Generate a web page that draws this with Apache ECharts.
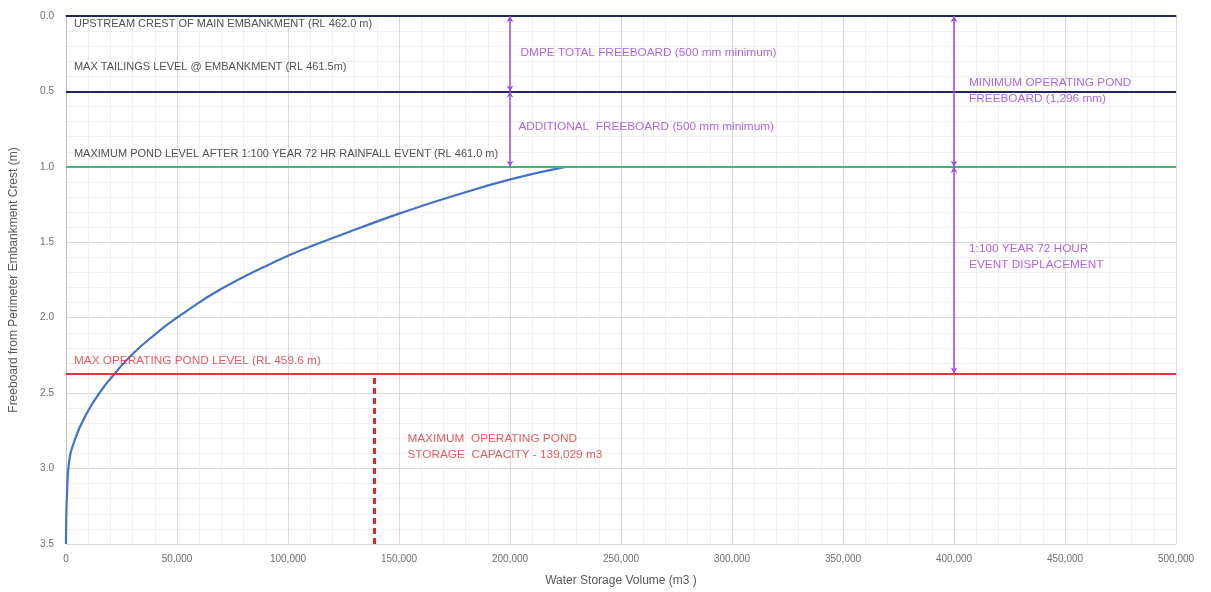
<!DOCTYPE html>
<html>
<head>
<meta charset="utf-8">
<script src="https://cdn.jsdelivr.net/npm/echarts@6/dist/echarts.min.js"></script>
<style>
  html, body { margin: 0; padding: 0; background: #fff; }
  #chart { width: 1211px; height: 592px; }
</style>
</head>
<body>
<div id="chart"></div>
<script>
// storage curve (volume m3 vs freeboard m)
const volumes    = [0, 150, 500, 1200, 4200, 9500, 15500, 22000, 30000, 41000, 50000, 71000, 100000, 116000, 131000, 151000, 174000, 201000, 225000];
const freeboards = [3.5, 3.3, 3.15, 2.98, 2.8, 2.63, 2.49, 2.37, 2.24, 2.1, 2.0, 1.8, 1.59, 1.495, 1.412, 1.305, 1.195, 1.08, 1.0];

// horizontal reference levels (freeboard m)
const levelValues = [0, 0.5, 1.0, 2.37];
const levelColors = ['#1f2660', '#1f2660', '#3dba7a', '#e2333f'];

// freeboard arrows: [volume, from, to]
const arrowSegments = [
  [200000, 0, 0.5],
  [200000, 0.5, 1.0],
  [400000, 0, 1.0],
  [400000, 1.0, 2.37]
];

// max operating storage marker
const maxStorage = 139029;
const maxStorageRange = [2.4, 3.5];

// text notes: [volume, freeboard, text, colour kind]
const notes = [
  [3800, 0.053, 'UPSTREAM CREST OF MAIN EMBANKMENT (RL 462.0 m)', 'black'],
  [3800, 0.344, 'MAX TAILINGS LEVEL @ EMBANKMENT (RL 461.5m)', 'black'],
  [3800, 0.92, 'MAXIMUM POND LEVEL AFTER 1:100 YEAR 72 HR RAINFALL EVENT (RL 461.0 m)', 'black'],
  [205000, 0.25, 'DMPE TOTAL FREEBOARD (500 mm minimum)', 'purple'],
  [204000, 0.74, 'ADDITIONAL  FREEBOARD (500 mm minimum)', 'purple'],
  [407000, 0.50, 'MINIMUM OPERATING POND\nFREEBOARD (1,296 mm)', 'purple'],
  [407000, 1.60, '1:100 YEAR 72 HOUR\nEVENT DISPLACEMENT', 'purple'],
  [3800, 2.29, 'MAX OPERATING POND LEVEL (RL 459.6 m)', 'red'],
  [154000, 2.86, 'MAXIMUM  OPERATING POND\nSTORAGE  CAPACITY - 139,029 m3', 'red']
];
const noteColors = { black: '#262626', purple: '#9b3fd8', red: '#e0323c' };
const noteSizes = { black: 11, purple: 11.8, red: 11.8 };

const chart = echarts.init(document.getElementById('chart'), null, { renderer: 'canvas' });

const font = 'Liberation Sans';

const opt = {
  backgroundColor: '#ffffff',
  animation: false,
  grid: { left: 63, right: 35, top: 16, bottom: 47 },
  xAxis: {
    type: 'value',
    min: 0,
    max: 500000,
    interval: 50000,
    name: 'Water Storage Volume (m3 )',
    nameLocation: 'middle',
    nameGap: 31,
    nameTextStyle: { color: '#595959', fontSize: 12, fontFamily: font },
    axisLine: { show: true, lineStyle: { color: '#6b6b6b', width: 1.5 } },
    axisTick: { show: false },
    axisLabel: {
      color: '#6f6f6f', fontSize: 10, fontFamily: font, margin: 10,
      formatter: (v) => v.toLocaleString('en-US')
    },
    splitLine: { show: true, lineStyle: { color: '#d9d9d9' } },
    minorTick: { show: false, splitNumber: 5 },
    minorSplitLine: { show: true, lineStyle: { color: '#f0f0f0' } }
  },
  yAxis: {
    type: 'value',
    inverse: true,
    min: 0,
    max: 3.5,
    interval: 0.5,
    name: 'Freeboard from Perimeter Embankment Crest (m)',
    nameLocation: 'middle',
    nameGap: 46,
    nameTextStyle: { color: '#595959', fontSize: 12, fontFamily: font },
    axisLine: { show: true, lineStyle: { color: '#bfbfbf' } },
    axisTick: { show: false },
    axisLabel: {
      color: '#6f6f6f', fontSize: 10, fontFamily: font, margin: 12,
      formatter: (v) => v.toFixed(1)
    },
    splitLine: { show: true, lineStyle: { color: '#d9d9d9' } },
    minorTick: { show: false, splitNumber: 5 },
    minorSplitLine: { show: true, lineStyle: { color: '#f0f0f0' } }
  },
  series: [
    {
      name: 'levels',
      type: 'line',
      data: [],
      markLine: {
        silent: true,
        symbol: 'none',
        label: { show: false },
        data: levelValues.map((v, i) => ({
          yAxis: v,
          lineStyle: { color: levelColors[i], width: 2, type: 'solid' }
        }))
      }
    },
    {
      name: 'storage',
      type: 'line',
      smooth: 0.5,
      showSymbol: false,
      lineStyle: { color: '#4472c4', width: 2.2 },
      data: volumes.map((v, i) => [v, freeboards[i]]),
      z: 3
    },
    {
      name: 'arrows',
      type: 'line',
      data: [],
      markLine: {
        silent: true,
        symbol: ['arrow', 'arrow'],
        symbolSize: [5, 6],
        label: { show: false },
        lineStyle: { color: '#a34bdc', width: 1.5, type: 'solid' },
        itemStyle: { color: '#3a3a8a' },
        data: arrowSegments.map((a) => [
          { coord: [a[0], a[1]] },
          { coord: [a[0], a[2]] }
        ])
      },
      z: 4
    },
    {
      name: 'maxStorage',
      type: 'line',
      data: [],
      markLine: {
        silent: true,
        symbol: 'none',
        label: { show: false },
        lineStyle: { color: '#d42a34', width: 3, type: [6, 4] },
        data: [[
          { coord: [maxStorage, maxStorageRange[0]] },
          { coord: [maxStorage, maxStorageRange[1]] }
        ]]
      },
      z: 4
    },
    {
      name: 'notes',
      type: 'scatter',
      symbolSize: 1,
      itemStyle: { color: 'rgba(0,0,0,0)' },
      silent: true,
      z: 5,
      data: notes.map((n) => ({
        value: [n[0], n[1]],
        label: {
          show: true,
          position: [0, 0],
          align: 'left',
          verticalAlign: 'middle',
          formatter: n[2],
          color: noteColors[n[3]],
          fontSize: noteSizes[n[3]],
          fontFamily: font,
          lineHeight: 16
        }
      }))
    }
  ]
};

chart.setOption(opt);
</script>
</body>
</html>
